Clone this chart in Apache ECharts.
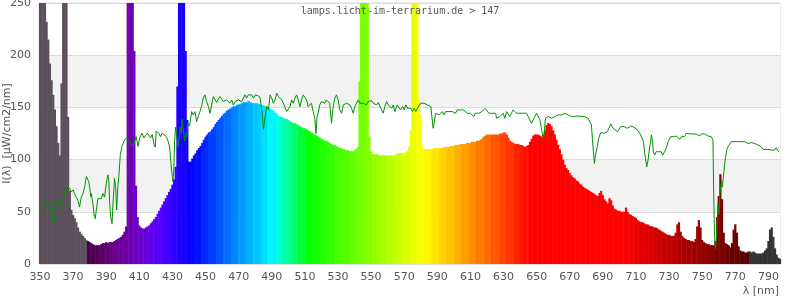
<!DOCTYPE html>
<html>
<head>
<meta charset="utf-8">
<script src="https://cdn.jsdelivr.net/npm/echarts@6/dist/echarts.min.js"></script>
<style>html,body{margin:0;padding:0;background:#fff}#c{width:800px;height:300px}</style>
</head>
<body>
<div id="c"></div>
<script>
// Lamp spectrum, 1 nm steps starting at 350 nm
const startNm = 350;
const lampValues = [
300,300,300,250,232,215,192,176,162,148, // 350-359
132,116,104,173,400,450,350,141,70,52,   // 360-369
47,44,40,35,31,29,27,25,23,22,           // 370-379
21,20,19,18,18,18,18,19,20,20,           // 380-389
21,20,21,21,21,22,23,24,25,26,           // 390-399
28,31,36,300,400,400,300,204,75,45,      // 400-409
37,35,34,34,35,36,37,39,41,43,           // 410-419
45,48,51,54,57,60,63,66,69,72,           // 420-429
76,81,93,170,350,450,450,350,204,138,    // 430-439
98,98,101,104,106,109,111,113,116,119,   // 440-449
122,124,126,127,129,131,134,136,138,140, // 450-459
142,144,145,147,148,149,150,151,151,152, // 460-469
153,153,154,155,155,155,156,155,154,154, // 470-479
154,154,153,153,152,152,151,151,150,149, // 480-489
148,147,145,144,142,141,141,140,139,139, // 490-499
138,137,136,135,135,134,133,132,131,130, // 500-509
130,129,128,127,126,125,124,123,122,121, // 510-519
120,119,118,118,117,116,115,114,114,113, // 520-529
112,111,111,110,110,109,109,108,108,108, // 530-539
109,110,112,175,300,400,400,400,300,122, // 540-549
108,105,105,105,105,104,104,104,104,104, // 550-559
104,104,104,104,104,105,106,106,106,106, // 560-569
106,107,108,112,128,300,400,400,300,157, // 570-579
143,114,110,110,110,110,110,110,111,111, // 580-589
111,111,111,111,112,112,112,112,113,113, // 590-599
113,114,114,114,115,115,115,115,116,116, // 600-609
116,117,117,117,118,118,119,120,122,123, // 610-619
124,124,124,124,124,124,124,124,125,125, // 620-629
126,126,124,121,118,117,116,115,115,115, // 630-639
114,114,113,112,113,114,117,120,123,124, // 640-649
124,124,123,122,124,128,133,135,134,132, // 650-659
128,124,119,114,110,105,100,95,92,90,    // 660-669
87,85,83,82,80,79,77,76,74,73,           // 670-679
72,71,70,69,68,67,66,65,68,70,           // 680-689
66,62,60,58,63,61,56,53,52,51,           // 690-699
51,50,50,50,54,50,48,47,46,45,           // 700-709
44,42,41,40,40,39,38,38,37,36,           // 710-719
36,35,35,34,33,32,31,30,29,28,           // 720-729
28,27,27,27,30,38,40,31,27,25,           // 730-739
24,23,23,22,22,21,24,36,42,35,           // 740-749
23,21,20,19,19,18,18,18,22,45,           // 750-759
65,86,62,30,20,19,18,16,20,33,           // 760-769
38,30,17,13,12,12,11,11,12,12,           // 770-779
11,12,11,10,10,10,10,11,13,15,           // 780-789
22,33,35,26,15,9,6,5                     // 790-797
];

// Reference (green) curve samples: wavelength and value
const refNm = [
350.4,351.8,352.8,354.4,355.8,356.8,358.5,359.9,360.9,362.5,363.9,364.9,365.9,366.9,367.9,368.9,369.9,370.9,371.9,372.9,373.9,374.9,376,377,378,378.6,379.4,380,380.6,381,382,382.6,383.4,384,385,386,387,388,389,390,391,391.6,392,392.7,393.5,394,395,395.7,396.3,397,397.7,398.5,399.5,400.7,402.1,403.1,404.1,405.1,406.1,407.1,408.1,409.2,410.2,411.6,412.8,413.6,414.8,415.6,416.8,417.8,418.8,419.6,420.2,421.2,421.8,422.8,423.8,424.9,426.3,427.3,428.3,429.3,429.9,430.3,430.9,431.3,431.9,432.3,432.9,433.3,433.9,434.7,435.3,435.9,436.7,437.3,437.9,438.7,439.3,440.3,
441.6,442.6,443.6,444.6,445.6,446.6,447.6,448.6,449.6,450.6,451.7,452.7,453.7,454.7,455.7,456.7,457.7,458.7,459.7,460.7,461.7,462.7,463.7,464.7,465.8,466.8,467.8,468.8,469.8,470.8,471.8,472.8,473.8,474.8,475.8,476.8,477.8,479,480,481,482,483,484,485,486,487,488,489,490,491,492,493,494,495,496,497,498,499,500,501,502,503,504,505,506,507,508,509,510,511,512,513,514,515,516,516.7,517.4,518,519,520,521,522,523,524,525,526.1,527.1,528.1,529.1,530.1,531.1,532.2,533.2,534.2,535.2,536.2,537.2,538.2,539.2,540.2,541.2,542.2,543.2,544.2,545.2,546.2,547.2,548.2,
549.3,550.3,551.3,552.3,553.3,554.3,555.3,556.3,557.3,558.3,559.4,560.4,561.4,562.4,563.4,564.4,565,565.8,567,567.8,569,570,571,572,573,574,575,576,577,578,579,580,581.1,582,583.1,584,585.1,586.1,586.7,587.5,588.2,589,590,591,592,593,594,595,596,597,598,599,600,601,602,603,604,605,606,607,608,609,610,611,612,613,614,615,616,617,618,619,620,621.1,622.1,623.1,624.1,625.2,625.8,626.8,627.8,628.8,629.8,630.8,631.8,632.8,633.8,634.8,635.8,636.8,637.8,638.8,639.9,640.9,641.9,642.9,643.9,644.9,645.9,646.9,647.9,648.9,649.9,650.9,652,653,653.6,654,654.5,655.3,657,659,661,663,665,667,669,671,673,675,677,679,681,682.1,683.1,683.7,684.3,684.9,
685.5,686.6,687.5,688.7,689.5,690.7,691.7,692.7,693.5,694.8,695.6,696.8,697.6,698.8,699.6,700.8,701.6,702.8,703.6,704.8,705.6,706.8,707.6,708.8,709.6,710.9,711.6,712.3,712.9,713.7,714.5,715.3,715.9,716.5,717.3,717.9,718.5,719.3,719.9,720.5,721.3,722.1,722.9,723.7,724.5,725.3,726.1,726.9,727.8,728.6,729.4,730.2,731,731.8,732.6,733.4,734.4,735.4,736.4,737.4,738.4,739.4,740.4,742.4,744.5,746.5,748.5,749.5,750.5,751.5,753.5,755.5,756.5,756.9,757.5,758.1,758.9,759.5,760.1,760.7,761.6,762.1,762.8,763.6,764.2,764.8,765.6,766.6,767.6,768.6,770.6,772.6,773.6,775.6,776.6,777.7,779.7,781.7,783.7,785.7,786.7,787.7,789.7,790.7,791.7,792.7,793.7,794.7,795.7,796.4
];
const refVal = [
56,50,59.6,61,56,48,40,59.6,51.6,59.6,61,67.5,72.5,71,72.5,69,71,67.5,64,61,54.5,64,67.5,74,83.8,85.4,79,74,64.5,67.5,57.8,48,43.4,51.6,62.6,64,62.6,67.5,64,77,85.4,80,61,45,38.6,54.5,82,74,51.6,74,85.4,104.5,112.6,117.5,120.7,119,117.5,116,112.6,111,122,112.6,120.7,125.4,120.7,120.7,125.4,127,120.7,124,114.8,112,127,128.6,125.4,122,125.4,125.4,122,118,112,93,83.8,79,93,118,131,126,120,112,118,131,125,139,139,118,126,122,135,132,
146,142.8,146,136.4,134.8,146,151,158.8,162,155.6,151,144.4,152.4,160.4,158.8,154.7,157.9,160.4,158.8,155.6,154,157.2,155.6,154,157.2,152.4,155.6,154,157.2,158.8,155.6,157.2,162,158.8,162,160.4,162,158.8,162,163,161,158.8,147.6,128.4,141.2,150.8,147.6,162,158.8,154,157.2,163.6,160.4,158.8,157.2,154,152.4,146,144.4,150.8,157.2,154,158.8,162,157.2,150.8,157.2,162,160.4,157.2,150.8,152.4,154,146,139.8,125,141.2,144.4,152.4,155.6,157.2,154,157.2,158.8,154,134.8,150.8,158.8,162,157.2,147.6,144.4,152.4,152.4,154,155.6,152.4,149.2,144.4,150.8,152.4,157.2,154,155.6,154,155.6,152.4,155.6,
154,156.5,154,155.6,152.4,154.6,151.4,150.8,144.4,150.8,155.6,152.4,154,149.2,152.4,146,144.4,152.4,150.8,147.6,150.8,147.6,152.4,149.2,149.2,149.2,146,149.2,146,149.2,150.8,154,155.6,154,153.4,152.4,154,150.8,141.2,130,136.4,144.4,146,142.8,144.4,146,142.8,146,147,146,144.4,146,147.6,144.4,147.6,149.2,147.6,146,147.6,147.6,144.4,146,144.4,142.8,141.2,144.4,146,144.4,142.8,146,147.6,149.2,147.6,144.4,146,144.4,146,144.4,139.6,138,141.2,142.8,144.4,139.6,146,144.4,141.2,144.4,147.6,146,144.4,146,144.4,144.4,144.4,145,144.4,141.2,138,134.8,138,141.2,144.4,142.8,138,128.4,126.8,120.4,123.6,139.6,141.2,139.6,141.2,142.8,142.8,144.4,142.8,141.2,141.2,141.9,141.2,141.2,139.6,138,133.2,119,107.5,96.3,
104.3,112.3,120.4,125.8,126.8,125.2,126.8,126.8,128.4,134.2,131.6,129,128.4,126.8,128.4,131.6,132.2,131.6,131,130,131,132.2,131.6,131,130,128.4,129,125.2,126.8,120.4,117.2,105.9,99.5,93.1,99.5,107.5,113.9,123.6,118.8,107.5,104.3,107.5,109.1,107.5,105.9,107.5,104.3,105.9,109.1,112.3,117.2,115.5,122,123.6,122,121.4,122.6,121.4,119.4,122,122.6,122,125.2,124.6,124.6,124.3,122.6,124.6,123.3,124.6,122.6,122,118.8,73,24.2,14.7,32.2,57.8,48,67.5,80,73.6,83,96.3,102.7,109.1,112.3,114.9,117.2,117.2,117.2,117.2,116.2,117.2,116.2,115.5,116.2,115.5,113.9,112.3,109.8,109.1,109.8,108.5,109.1,108.5,109.1,111.3,108.5,107.5
];

const xTickLabels = [350,370,390,410,430,450,470,490,510,530,550,570,590,610,630,650,670,690,710,730,750,770,790];
const yTickLabels = [0,50,100,150,200,250];
const titleText = 'lamps.licht-im-terrarium.de > 147';
const yName = 'I(λ)  [µW/cm2/nm]';
const xName = 'λ [nm]';

function specColor(nm) {
  if (nm < 379) return '#5d505d';
  if (nm > 778) return '#333333';
  let w = 380 + Math.floor((nm - 380) / 4.5) * 4.5;
  if (w < 380) w = 380;
  let r = 0, g = 0, b = 0;
  if (w < 440) { r = -(w - 440) / 60; b = 1; }
  else if (w < 490) { g = (w - 440) / 50; b = 1; }
  else if (w < 510) { g = 1; b = -(w - 510) / 20; }
  else if (w < 580) { r = (w - 510) / 70; g = 1; }
  else if (w < 645) { r = 1; g = -(w - 645) / 65; }
  else { r = 1; }
  let f = 1;
  if (w < 420) f = 0.3 + 0.7 * (w - 380) / 40;
  else if (w > 700) f = 0.3 + 0.7 * (780 - w) / 80;
  const adj = c => c <= 0 ? 0 : Math.round(255 * c * f);
  return 'rgb(' + adj(r) + ',' + adj(g) + ',' + adj(b) + ')';
}

const barData = lampValues.map((v, i) => [startNm + i, v]);
const lineData = refNm.map((x, i) => [x, refVal[i]]);

const chart = echarts.init(document.getElementById('c'));
chart.setOption({
  animation: false,
  backgroundColor: '#fff',
  grid: { left: 40, right: 20, top: 3, bottom: 36, show: true, borderColor: '#dcdcdc', borderWidth: 1,
          containLabel: false, outerBoundsMode: 'none' },
  graphic: [
    { type: 'text', left: 'center', top: 6, z: 100, style: { text: titleText, font: '10px "DejaVu Sans Mono"', fill: '#555' } },
    { type: 'text', right: 21, top: 286, z: 100, style: { text: xName, font: '11px "DejaVu Sans"', fill: '#555' } }
  ],
  xAxis: {
    type: 'value', min: 350, max: 797, interval: 10,
    axisLine: { show: true, lineStyle: { color: '#dcdcdc' } },
    axisTick: { show: false },
    splitLine: { show: false },
    axisLabel: { customValues: xTickLabels, color: '#555', fontFamily: 'DejaVu Sans', fontSize: 11, margin: 8 }
  },
  yAxis: {
    type: 'value', min: 0, max: 250, interval: 50,
    name: yName, nameLocation: 'middle', nameGap: 27, nameRotate: 90, nameMoveOverlap: false,
    nameTextStyle: { color: '#555', fontFamily: 'DejaVu Sans', fontSize: 11 },
    axisLine: { show: true, lineStyle: { color: '#dcdcdc' } },
    axisTick: { show: false },
    axisLabel: { customValues: yTickLabels, color: '#555', fontFamily: 'DejaVu Sans', fontSize: 11, margin: 9 },
    splitLine: { show: true, lineStyle: { color: '#dcdcdc' } },
    splitArea: { show: true, areaStyle: { color: ['#ffffff', '#f2f2f2'] } }
  },
  series: [
    {
      type: 'bar', data: barData, barWidth: 2.2, clip: true,
      itemStyle: { color: p => specColor(p.data[0]) }
    },
    {
      type: 'line', data: lineData, showSymbol: false, symbol: 'none',
      lineStyle: { color: '#009200', width: 1 }, clip: true
    }
  ]
});
</script>
</body>
</html>
